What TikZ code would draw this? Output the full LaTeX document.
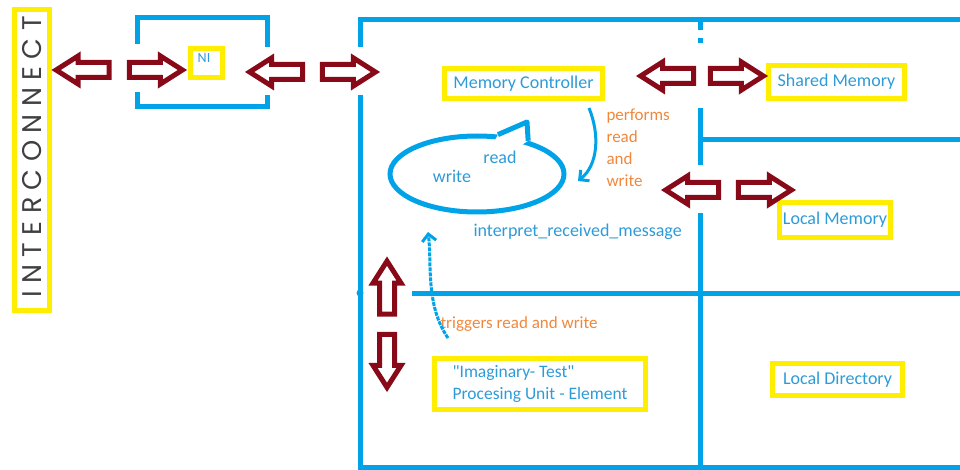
\documentclass[tikz,border=0pt]{standalone}
\usepackage{fontspec}
\setmainfont{Carlito}[Ligatures=TeXOff]
\newfontfamily\icfont[LetterSpace=27.5]{Poppins}
\usetikzlibrary{arrows.meta,shapes.arrows,shapes.geometric,positioning}

\definecolor{paintblue}{RGB}{0,162,232}
\definecolor{txtblue}{RGB}{45,155,215}
\definecolor{paintyellow}{RGB}{255,238,0}
\definecolor{darkred}{RGB}{136,10,25}
\definecolor{noteorange}{RGB}{240,135,60}

\begin{document}
\begin{tikzpicture}[
  x=1pt,y=-1pt,
  ybox/.style={draw=paintyellow, line width=5pt, inner sep=0pt, font=\fontsize{18}{22}\selectfont, text=txtblue},
  wall/.style={draw=paintblue, line width=5pt},
  blk/.style={single arrow, draw=darkred, fill=white, line width=5pt, inner sep=5pt, minimum height=53pt,
    single arrow head extend=6.5pt, single arrow tip angle=65},
  lbl/.style={font=\fontsize{18}{22}\selectfont, text=txtblue},
  note/.style={font=\fontsize{17}{22}\selectfont, text=noteorange, align=left},
  flow/.style={draw=paintblue, line width=3pt, -{Straight Barb[length=7pt,width=14pt]}}
]
\useasboundingbox (0,0) rectangle (960,470);

% interconnect bar
\node[draw=paintyellow, line width=5pt, minimum width=35pt, minimum height=301pt, inner sep=0pt] (ic) at (32,160) {};
\node[rotate=90, inner sep=0pt, font=\icfont\fontsize{27}{27}\selectfont, text=black!75] (iclbl) at (32,157) {INTERCONNECT};

% network interface
\draw[wall] (137,44) -- (137,18) -- (267,18) -- (267,47);
\draw[wall] (137,92) -- (137,107) -- (267,107) -- (267,95);
\node[ybox, minimum width=32pt, minimum height=29pt] (ni) at (206.5,63) {};
\node[lbl, font=\fontsize{14}{14}\selectfont] (nilbl) at (204,58) {NI};

% node frame and its parts
\draw[wall] (360,47) -- (360,20) -- (962,20);
\draw[wall] (360,95) -- (360,467) -- (962,467);
\draw[wall] (700,20) -- (700,30);
\draw[wall] (700,38) -- (700,43);
\draw[wall] (700,108) -- (700,165);
\draw[wall] (700,213) -- (700,467);
\draw[wall] (700,140) -- (962,140);
\draw[wall] (412,293) -- (962,293);
\fill[paintblue] (360,293) circle (3.5pt);

\node[ybox, minimum width=158pt, minimum height=30pt] (mc) at (523.5,83.5) {Memory Controller};
\node[ybox, minimum width=136pt, minimum height=33pt] (shm) at (836.5,82) {Shared Memory};
\node[ybox, minimum width=111pt, minimum height=35pt] (lmem) at (835,220) {Local Memory};
\node[ybox, minimum width=130pt, minimum height=32pt] (ldir) at (837.5,379.5) {Local Directory};
\node[ybox, minimum width=211pt, minimum height=51pt, align=left, font=\fontsize{17.5}{22}\selectfont]
  (pu) at (540,384) {"Imaginary- Test"\\Procesing Unit - Element};

% two-way links
\node[blk, shape border rotate=180] (a1) at (88.5,70) {};
\node[blk] (a2) at (150,70) {};
\node[blk, shape border rotate=180] (a3) at (282,72) {};
\node[blk] (a4) at (343,72) {};
\node[blk, shape border rotate=180] (a5) at (673,76) {};
\node[blk] (a6) at (731,76) {};
\node[blk, shape border rotate=180] (a7) at (698,190) {};
\node[blk] (a8) at (759,190) {};
\node[blk, shape border rotate=90] (a9) at (387,293.5) {};
\node[blk, shape border rotate=270] (a10) at (387,355) {};

% read/write bubble
\node[draw=paintblue, line width=5pt, ellipse, minimum width=174pt, minimum height=76pt, inner sep=0pt] (bubble) at (477,174) {};
\coordinate (tip) at (527,122);
\fill[white] (bubble.62) -- (tip) -- (bubble.33) -- (bubble.center) -- cycle;
\draw[paintblue, line width=5pt, line join=round] (bubble.62) -- (tip) -- (bubble.33);
\node[lbl] (rd) at (500,157) {read};
\node[lbl] (wr) at (452,176) {write};

% messages
\node[note, anchor=west] (perf) at (603,148) {performs\\read\\and\\write};
\node[lbl, anchor=west] (irm) at (470,232) {interpret\_received\_message};
\node[note, anchor=west] (trg) at (437,324) {triggers read and write};

\coordinate (c1s) at (589,108);
\coordinate (c1e) at (578,181);
\draw[flow] (c1s) .. controls (600,135) and (598,165) .. (c1e);
\coordinate (c2s) at (448,338);
\coordinate (c2e) at (428,232);
\draw[flow, dash pattern=on 4pt off 1pt] (c2s) .. controls (425,305) and (432,262) .. (c2e);
\end{tikzpicture}
\end{document}
